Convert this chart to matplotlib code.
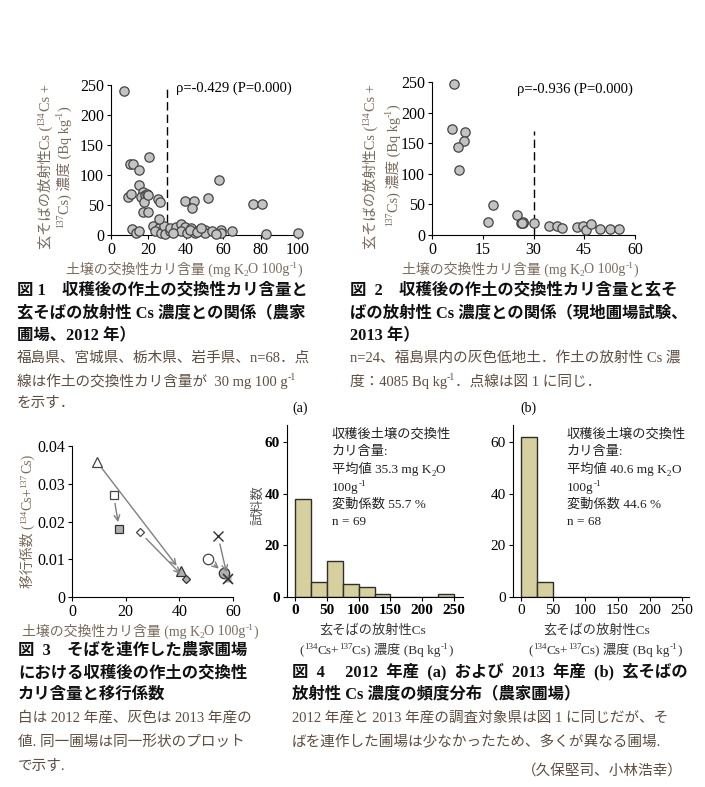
import matplotlib
matplotlib.use("Agg")
import matplotlib.pyplot as plt

plt.rcParams["font.family"] = ["Liberation Serif", "Noto Sans CJK JP"]

W, H = 705, 787

# fig 1: farm fields 2012 (K content vs Cs)
k_2012 = [7, 10, 12, 20.5, 15, 15, 9, 10.5, 17, 16, 18, 19, 17.5, 20, 25, 26, 17, 20,
          39.5, 44.5, 43.5, 52, 58, 76, 81, 11, 13.5, 15, 22.5, 25.5, 23.5, 26.5, 28.5,
          29, 31.5, 31.5, 34.5, 37.5, 39.5, 37.5, 40.5, 43, 45, 47, 50, 50.5, 54, 59,
          59, 64.5, 83, 100, 25.5, 33, 42, 46, 48, 56]
cs_2012 = [240, 119, 119, 130, 109, 84, 64, 68, 71, 63, 66, 68, 55, 66, 60, 55, 39, 39,
           56, 57, 45, 62, 91, 51, 51, 10, 3, 7, 15, 11, 6, 4, 15,
           2, 6, 11, 13, 19, 13, 6, 3, 11, 4, 9, 9, 3, 6, 8,
           4, 7, 2, 3, 26, 3, 8, 5, 11, 2]

# fig 2: field trial 2013
k_2013 = [6.4, 5.9, 9.8, 9.5, 7.7, 7.9, 16.5, 18, 25, 26.4, 26.8, 27, 30, 34.6, 37,
          38.4, 43, 44.6, 45.5, 47, 49.6, 52.5, 55.3, 26.6]
cs_2013 = [246, 173, 169, 153, 143, 106, 21, 49, 33, 19, 20, 22, 19, 15, 15,
           11, 13, 14, 8, 18, 9, 9, 10, 20]

# fig 3: transfer factor, same field 2012 -> 2013
tf_markers = ["^", "s", "D", "o", "x"]
tf_sizes = [7, 6, 4.5, 7.5, 7]
tf_k12 = [9.3, 15.5, 25.4, 50.7, 54.4]
tf_v12 = [0.0358, 0.0270, 0.0171, 0.0100, 0.0162]
tf_k13 = [40.6, 17.6, 42.3, 56.7, 58.1]
tf_v13 = [0.0068, 0.0180, 0.0048, 0.0063, 0.0048]

# fig 4: histograms
bin_left = [0, 25, 50, 75, 100, 125, 150, 175, 200, 225]
counts_a = [38, 6, 14, 5, 4, 1, 0, 0, 0, 1]
counts_b = [62, 6, 0, 0, 0, 0, 0, 0, 0, 0]

LBL = "#7a6a5c"
BODY = "#5e4d40"

fig = plt.figure(figsize=(W / 100, H / 100), dpi=100)
R = fig.canvas.get_renderer()


def ax_px(l, t, r, b, ls=11.5):
    a = fig.add_axes([l / W, 1 - b / H, (r - l) / W, (b - t) / H])
    a.spines["top"].set_visible(False)
    a.spines["right"].set_visible(False)
    a.tick_params(labelsize=ls, length=3, width=0.8, pad=2)
    return a


def ftext(x, y, s, **kw):
    kw.setdefault("va", "center")
    return fig.text(x / W, 1 - y / H, s, **kw)


def rich(x, y, runs, size, color, rotation=0, ha="left", weight="normal"):
    # runs of plain / sup / sub text, placed one after another (x, y = centre line, px)
    px = size * 100 / 72
    placed = []
    total = 0
    for s, kind in runs:
        fs = size if kind == "n" else size * 0.68
        sp = 0.25 * fs * 100 / 72
        core = s.strip()
        lead = len(s) - len(s.lstrip())
        trail = len(s) - len(s.rstrip())
        t = fig.text(0, 0, core, fontsize=fs, color=color, rotation=rotation,
                     rotation_mode="anchor", ha="left", va="baseline", fontweight=weight)
        bb = t.get_window_extent(R)
        w = bb.width if rotation == 0 else bb.height
        placed.append((t, kind, total + lead * sp))
        total += w + (lead + trail) * sp
    shift = {"left": 0, "center": total / 2, "right": total}[ha]
    for t, kind, off in placed:
        d = {"n": 0, "sup": -0.40 * px, "sub": 0.20 * px}[kind]
        if rotation == 0:
            xx = x - shift + off
            yy = y + 0.32 * px + d
        else:
            xx = x + 0.32 * px + d
            yy = y + shift - off
        t.set_position((xx / W, 1 - yy / H))


XLAB = [("土壌の交換性カリ含量 (mg K", "n"), ("2", "sub"), ("O 100g", "n"), ("-1", "sup"), (")", "n")]
YL1 = [("玄そばの放射性Cs (", "n"), ("134", "sup"), ("Cs +", "n")]
YL2 = [("137", "sup"), ("Cs) 濃度 (Bq kg", "n"), ("-1", "sup"), (")", "n")]

# ---- fig 1
ax1 = ax_px(111, 85, 298, 235)
ax1.scatter(k_2012, cs_2012, s=45, c="#c3c3c3", edgecolors="#444444", linewidths=0.9,
            zorder=3, clip_on=False)
ax1.vlines(30, 0, 250, colors="k", linestyles=(0, (6, 3)), lw=1)
ax1.set_xlim(0, 100)
ax1.set_ylim(0, 250)
ax1.set_xticks([0, 20, 40, 60, 80, 100])
ax1.set_yticks([0, 50, 100, 150, 200, 250])
ax1.text(35, 245, "ρ=-0.429 (P=0.000)", fontsize=10.5, va="center")
rich(45, 167, YL1, 10.3, LBL, rotation=90, ha="center")
rich(64, 167, YL2, 10.3, LBL, rotation=90, ha="center")
rich(184, 269, XLAB, 10, LBL, ha="center")

# ---- fig 2
ax2 = ax_px(432, 82, 635, 235)
ax2.scatter(k_2013, cs_2013, s=45, c="#c3c3c3", edgecolors="#444444", linewidths=0.9,
            zorder=3, clip_on=False)
ax2.vlines(30, 0, 170, colors="k", linestyles=(0, (6, 3)), lw=1)
ax2.set_xlim(0, 60)
ax2.set_ylim(0, 250)
ax2.set_xticks([0, 15, 30, 45, 60])
ax2.set_yticks([0, 50, 100, 150, 200, 250])
ax2.text(25, 238, "ρ=-0.936 (P=0.000)", fontsize=10.5, va="center")
rich(370, 167, YL1, 10.3, LBL, rotation=90, ha="center")
rich(393, 165, YL2, 10.3, LBL, rotation=90, ha="center")
rich(520, 269, XLAB, 10, LBL, ha="center")

# ---- fig 3
ax3 = ax_px(72, 446, 233, 597)
for m, ms, x0, y0, x1, y1 in zip(tf_markers, tf_sizes, tf_k12, tf_v12, tf_k13, tf_v13):
    ax3.annotate("", xy=(x1, y1), xytext=(x0, y0),
                 arrowprops=dict(arrowstyle="->", color="#808080", lw=1,
                                 shrinkA=6, shrinkB=5))
    if m == "x":
        ax3.plot(x0, y0, m, ms=ms, mew=1, color="#333333", zorder=3)
        ax3.plot(x1, y1, "s", ms=5, mfc="#b0b0b0", mec="none", zorder=3)
        ax3.plot(x1, y1, m, ms=ms, mew=1.2, color="#333333", zorder=4)
    else:
        ax3.plot(x0, y0, m, ms=ms, mfc="white", mec="#444444", mew=0.9, zorder=3)
        ax3.plot(x1, y1, m, ms=ms, mfc="#b0b0b0", mec="#333333", mew=0.9, zorder=3)
ax3.set_xlim(0, 60)
ax3.set_ylim(0, 0.04)
ax3.set_xticks([0, 20, 40, 60])
ax3.set_yticks([0, 0.01, 0.02, 0.03, 0.04])
ax3.set_yticklabels(["0", "0.01", "0.02", "0.03", "0.04"])
rich(27, 521, [("移行係数 (", "n"), ("134", "sup"), ("Cs+", "n"), ("137", "sup"), ("Cs)", "n")],
     10, LBL, rotation=90, ha="center")
rich(140, 631, XLAB, 10, LBL, ha="center")

# ---- fig 4 histograms
HCOL = "#d6cf9e"
HLAB2 = [("(", "n"), ("134", "sup"), ("Cs+", "n"), ("137", "sup"), ("Cs) 濃度 (Bq kg", "n"),
         ("-1", "sup"), (")", "n")]

axa = ax_px(287, 425, 463, 597, ls=11)
axa.bar(bin_left, counts_a, width=25, align="edge", color=HCOL, edgecolor="#2e2e2e", lw=1)
axa.set_xlim(-12.5, 264)
axa.set_ylim(0, 66.6)
axa.set_xticks([0, 50, 100, 150, 200, 250])
axa.set_yticks([0, 20, 40, 60])
for lab in axa.get_xticklabels() + axa.get_yticklabels():
    lab.set_fontweight("bold")
ftext(292, 408, "(a)", ha="left", fontsize=10)
ftext(258, 505, "試料数", rotation=90, ha="center", fontsize=9.5, color="#555555")

axb = ax_px(513, 425, 689, 597, ls=11)
axb.bar(bin_left, counts_b, width=25, align="edge", color=HCOL, edgecolor="#2e2e2e", lw=1)
axb.set_xlim(-12.4, 261)
axb.set_ylim(0, 66.6)
axb.set_xticks([0, 50, 100, 150, 200, 250])
axb.set_yticks([0, 20, 40, 60])
ftext(520, 408, "(b)", ha="left", fontsize=10)

for x0, mean, cv, n in [(332, "35.3", "55.7", "69"), (567, "40.6", "44.6", "68")]:
    ftext(x0, 434, "収穫後土壌の交換性", ha="left", fontsize=9.5, color="#222222")
    ftext(x0, 451.6, "カリ含量:", ha="left", fontsize=9.5, color="#222222")
    rich(x0, 469.2, [("平均値 " + mean + " mg K", "n"), ("2", "sub"), ("O", "n")], 9.5, "#222222")
    rich(x0, 486.8, [("100g", "n"), ("-1", "sup")], 9.5, "#222222")
    ftext(x0, 504.4, "変動係数 " + cv + " %", ha="left", fontsize=9.5, color="#222222")
    ftext(x0, 522, "n = " + n, ha="left", fontsize=9.5, color="#222222")

ftext(373, 630, "玄そばの放射性Cs", ha="center", fontsize=9.5, color="#333333")
rich(376, 650, HLAB2, 9.5, "#333333", ha="center")
ftext(597, 630, "玄そばの放射性Cs", ha="center", fontsize=9.5, color="#333333")
rich(605, 650, HLAB2, 9.5, "#333333", ha="center")

# ---- captions
CAP = dict(ha="left", fontsize=11.8, fontweight="bold", color="#111111")
TXT = dict(ha="left", fontsize=10.5, color=BODY)

ftext(17, 290, "図 1　収穫後の作土の交換性カリ含量と", **CAP)
ftext(17, 313, "玄そばの放射性 Cs 濃度との関係（農家", **CAP)
ftext(17, 335, "圃場、2012 年）", **CAP)
ftext(17, 358, "福島県、宮城県、栃木県、岩手県、n=68．点", **TXT)
rich(17, 381, [("線は作土の交換性カリ含量が  30 mg 100 g", "n"), ("-1", "sup")], 10.5, BODY)
ftext(17, 403, "を示す．", **TXT)

ftext(350, 290, "図  2　収穫後の作土の交換性カリ含量と玄そ", **CAP)
ftext(350, 313, "ばの放射性 Cs 濃度との関係（現地圃場試験、", **CAP)
ftext(350, 335, "2013 年）", **CAP)
ftext(350, 358, "n=24、福島県内の灰色低地土．作土の放射性 Cs 濃", **TXT)
rich(350, 381, [("度：4085 Bq kg", "n"), ("-1", "sup"), ("．点線は図 1 に同じ．", "n")], 10.5, BODY)

ftext(18, 651, "図  3　そばを連作した農家圃場", **CAP)
ftext(18, 673, "における収穫後の作土の交換性", **CAP)
ftext(18, 695, "カリ含量と移行係数", **CAP)
ftext(18, 718, "白は 2012 年産、灰色は 2013 年産の", **TXT)
ftext(18, 742, "値. 同一圃場は同一形状のプロット", **TXT)
ftext(18, 766, "で示す.", **TXT)

ftext(292, 672, "図  4　 2012  年産  (a)  および  2013  年産  (b)  玄そばの", **CAP)
ftext(292, 694, "放射性 Cs 濃度の頻度分布（農家圃場）", **CAP)
ftext(292, 718, "2012 年産と 2013 年産の調査対象県は図 1 に同じだが、そ", **TXT)
ftext(292, 742, "ばを連作した圃場は少なかったため、多くが異なる圃場.", **TXT)
ftext(683, 772, "（久保堅司、小林浩幸）", ha="right", fontsize=10.5, color=BODY)

fig.savefig("out.png", dpi=100)
